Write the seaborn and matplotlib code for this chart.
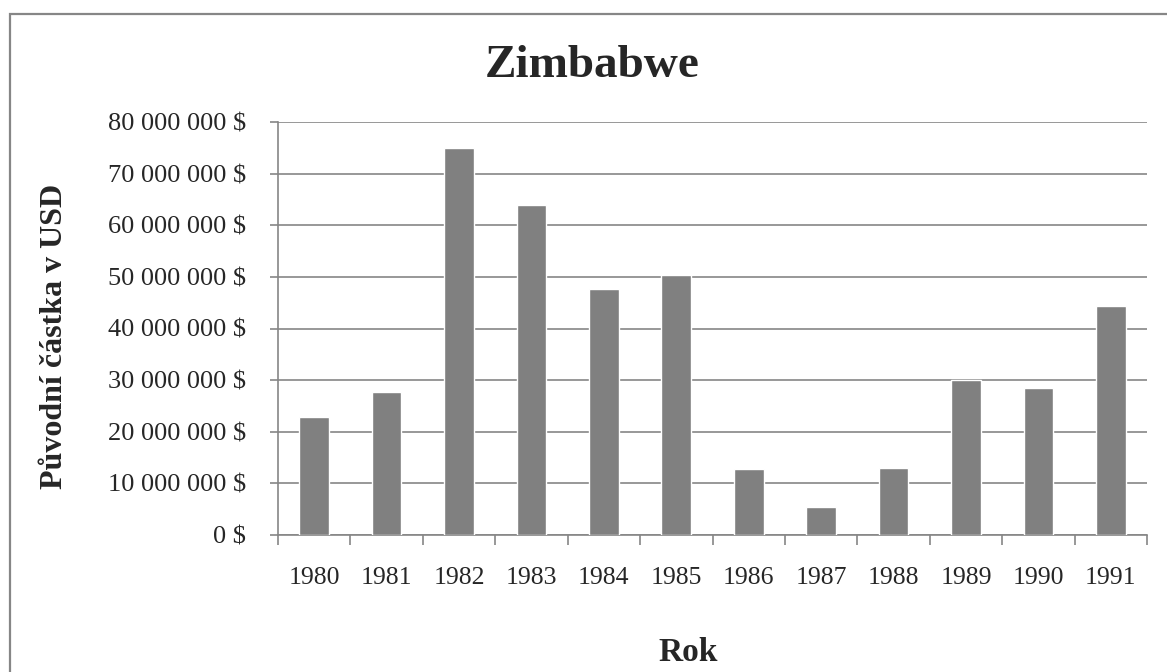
import matplotlib
matplotlib.use("Agg")
import matplotlib.pyplot as plt
import matplotlib.patches as mpatches
from matplotlib.ticker import FuncFormatter, FixedLocator
import pandas as pd
import seaborn as sns

# values (USD)
years = ["1980", "1981", "1982", "1983", "1984", "1985",
         "1986", "1987", "1988", "1989", "1990", "1991"]
amounts_musd = [22.9, 27.7, 75.0, 63.9, 47.7, 50.4,
                12.8, 5.5, 13.0, 30.0, 28.5, 44.4]
y_ticks = [0, 10e6, 20e6, 30e6, 40e6, 50e6, 60e6, 70e6, 80e6]

title = "Zimbabwe"
x_title = "Rok"
y_title = "Původní částka v USD"

GRAY = "#868686"
BAR = "#808080"

sns.set_style("white")
plt.rcParams["font.family"] = ["Liberation Serif", "DejaVu Serif"]

df = pd.DataFrame({"Rok": years, "Castka": [v * 1e6 for v in amounts_musd]})

W, H = 1167, 672
fig = plt.figure(figsize=(W / 100, H / 100), dpi=100)
ax = fig.add_axes([278 / W, 1 - 535 / H, (1147 - 278) / W, (535 - 122) / H])

sns.barplot(data=df, x="Rok", y="Castka", color=BAR, width=0.41,
            saturation=1, ax=ax, zorder=3)

ax.set_ylim(0, 80e6)
ax.set_xlim(-0.5, len(years) - 0.5)
ax.yaxis.set_major_locator(FixedLocator(y_ticks))
ax.yaxis.set_major_formatter(
    FuncFormatter(lambda v, _: f"{int(round(v)):,}".replace(",", " ") + " $"))
ax.grid(axis="y", color=GRAY, linewidth=1.2, zorder=0)
ax.grid(axis="x", visible=False)

# category boundaries get tick marks, labels sit between them
ax.set_xticks([i - 0.5 for i in range(len(years) + 1)])
ax.set_xticklabels([])
ax.set_xticks(range(len(years)), minor=True)
ax.set_xticklabels(years, minor=True)
ax.tick_params(axis="x", which="major", length=7, width=1.2, color=GRAY,
               direction="out", bottom=True)
ax.tick_params(axis="x", which="minor", length=0, pad=23, labelsize=18.5)
ax.tick_params(axis="y", length=6, width=1.2, color=GRAY, direction="out",
               left=True, pad=17, labelsize=19)

for side in ["top", "right"]:
    ax.spines[side].set_visible(False)
for side in ["left", "bottom"]:
    ax.spines[side].set_color(GRAY)
    ax.spines[side].set_linewidth(1.2)

ax.set_xlabel("")
ax.set_ylabel("")

fig.text(592 / W, 1 - 77 / H, title, ha="center", va="baseline",
         fontsize=34, fontweight="bold")
fig.text(688 / W, 1 - 661 / H, x_title, ha="center", va="baseline",
         fontsize=24, fontweight="bold")
fig.text(55 / W, 1 - 336 / H, y_title, ha="center", va="center",
         rotation=90, fontsize=23, fontweight="bold")

# chart-area border (Excel style), runs off the right/bottom edges
border = mpatches.Rectangle((10 / W, -0.2), 1.2, 1 - 14 / H + 0.2,
                            transform=fig.transFigure, fill=False,
                            edgecolor=GRAY, linewidth=1.6, clip_on=False)
fig.patches.append(border)

fig.savefig("out.png", dpi=100)
